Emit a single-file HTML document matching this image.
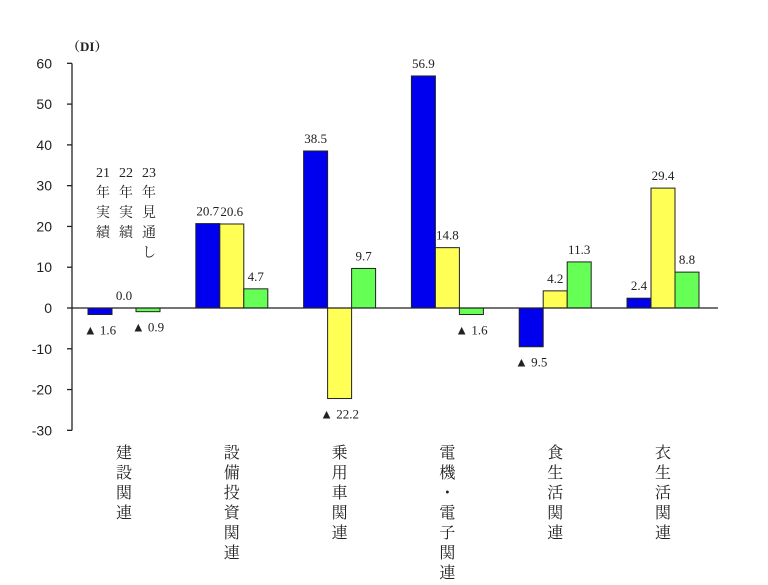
<!DOCTYPE html>
<html><head><meta charset="utf-8"><style>
body{margin:0;background:#fff;}
svg text{font-family:"Liberation Serif","Noto Serif CJK JP",serif;fill:#222;}
.tick{font-family:"Liberation Sans",sans-serif;font-size:14px;}
</style></head><body>
<svg id="c" width="768" height="580" xmlns="http://www.w3.org/2000/svg"></svg>
<script>
const categories=["建設関連","設備投資関連","乗用車関連","電機・電子関連","食生活関連","衣生活関連"];
const series21=[-1.6,20.7,38.5,56.9,-9.5,2.4];
const series22=[0.0,20.6,-22.2,14.8,4.2,29.4];
const series23=[-0.9,4.7,9.7,-1.6,11.3,8.8];
const yTicks=[60,50,40,30,20,10,0,-10,-20,-30];
const legendLabels=["21年実績","22年実績","23年見通し"];
const NS="http://www.w3.org/2000/svg";
const svg=document.getElementById('c');
const y=v=>308-v*4.078;
const xc=i=>124+i*107.8;
const bw=24;
function mk(t,a,txt){const e=document.createElementNS(NS,t);for(const k in a)e.setAttribute(k,a[k]);if(txt!==undefined)e.textContent=txt;svg.appendChild(e);return e;}
// axis
let ax=mk('line',{x1:72,y1:y(60),x2:72,y2:y(-30),stroke:'#222','stroke-width':1.3});


yTicks.forEach(v=>{
 let l=mk('line',{x1:67,y1:y(v),x2:72,y2:y(v),stroke:'#222','stroke-width':1.3});
 
 
 let t=mk('text',{x:52,y:y(v)+5,'text-anchor':'end',class:'tick'},String(v));
 
 
});
let u=mk('text',{x:67,y:51,'font-size':'13','font-weight':'bold'},'（DI）');


const colors=['#0000ee','#ffff55','#66ff55'];
const all=[series21,series22,series23];
categories.forEach((c,i)=>{
 all.forEach((s,k)=>{
  const v=s[i];const x0=xc(i)-36+k*bw;
  const top=Math.min(y(v),y(0)),h=Math.abs(y(v)-y(0));
  let r=mk('rect',{x:x0,y:top,width:bw,height:Math.max(h,0.01),fill:colors[k],stroke:'#222','stroke-width':1});
  
  
  let lbl,ly;
  if(v<0){lbl='▲ '+Math.abs(v).toFixed(1);ly=y(v)+20;}else{lbl=v.toFixed(1);ly=y(v)-8;}
  let t=mk('text',{x:x0+bw/2,y:ly,'text-anchor':'middle','font-size':'13'},lbl);
  
  
 });
 const chars=[...c];
 chars.forEach((ch,j)=>{
  let t=mk('text',{x:xc(i),y:458+j*20,'text-anchor':'middle','font-size':'16'},ch);
  
  
 });
});
let z=mk('line',{x1:72,y1:y(0),x2:718,y2:y(0),stroke:'#222','stroke-width':1.3});


// legend vertical text
legendLabels.forEach((lab,k)=>{
 const cx=103+k*23;
 const parts=[lab.slice(0,2),...lab.slice(2)];
 parts.forEach((p,j)=>{
  let t=mk('text',{x:cx,y:177+j*20,'text-anchor':'middle','font-size':'14',fill:'#444'},p);
  
  
 });
});
</script>
</body></html>
